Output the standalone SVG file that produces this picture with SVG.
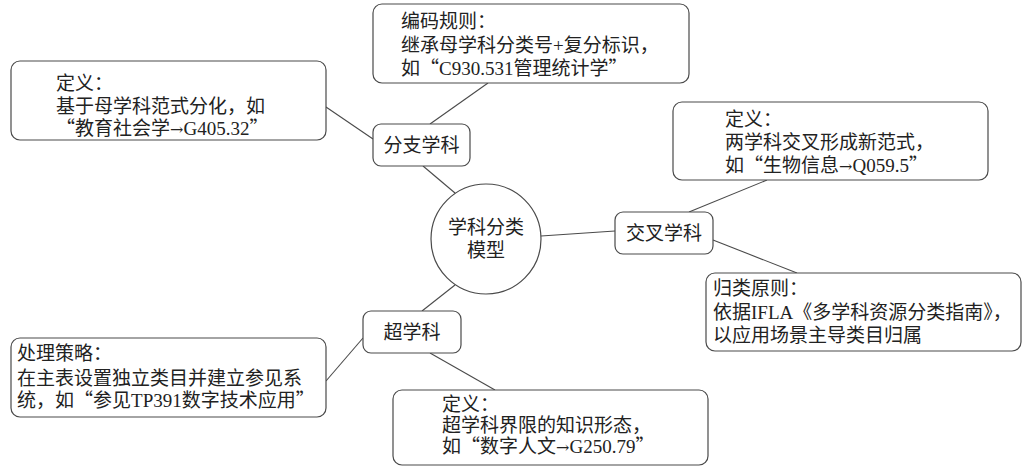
<svg xmlns="http://www.w3.org/2000/svg" width="1026" height="468" viewBox="0 0 1026 468">
<style>
  .bg { fill: #ffffff; }
  .box { fill: #ffffff; stroke: #4a4a4a; stroke-width: 1.2; }
  .conn { stroke: #4a4a4a; stroke-width: 1.1; fill: none; }
  text { font-family: "Liberation Serif", "Noto Sans CJK SC", serif; font-size: 19px; fill: #222222; }
  .c { text-anchor: middle; }
  .q { font-family: "Noto Sans CJK SC", sans-serif; }
  .a { font-family: "DejaVu Serif", serif; font-size: 16px; }
</style>
<rect class="bg" x="0" y="0" width="1026" height="468"/>
<g id="connectors">
  <line class="conn" x1="430" y1="124" x2="488" y2="83"/>
  <line class="conn" x1="373" y1="139" x2="326" y2="107"/>
  <line class="conn" x1="455" y1="193" x2="423" y2="166"/>
  <line class="conn" x1="541" y1="236" x2="615" y2="231"/>
  <line class="conn" x1="689" y1="212" x2="767" y2="180"/>
  <line class="conn" x1="713" y1="240" x2="797" y2="273"/>
  <line class="conn" x1="455" y1="285" x2="422" y2="311"/>
  <line class="conn" x1="363" y1="338" x2="326" y2="381"/>
  <line class="conn" x1="430" y1="353" x2="495" y2="390"/>
</g>
<g id="center">
  <circle class="box" cx="486" cy="239" r="55"/>
  <text class="c" x="486" y="234">学科分类</text>
  <text class="c" x="486" y="257">模型</text>
</g>
<g id="branch">
  <rect class="box" x="373" y="124" width="97" height="42" rx="8"/>
  <text class="c" x="421.5" y="152">分支学科</text>
</g>
<g id="branch-rule">
  <rect class="box" x="373" y="4" width="316" height="79" rx="9"/>
  <text x="401" y="28">编码规则：</text>
  <text x="401" y="52">继承母学科分类号+复分标识，</text>
  <text x="401" y="75">如<tspan class="q">“</tspan>C930.531管理统计学<tspan class="q">”</tspan></text>
</g>
<g id="branch-def">
  <rect class="box" x="11" y="61" width="315" height="79" rx="9"/>
  <text x="56" y="90">定义：</text>
  <text x="56" y="113">基于母学科范式分化，如</text>
  <text x="56" y="135"><tspan class="q">“</tspan>教育社会学<tspan class="a">→</tspan>G405.32<tspan class="q">”</tspan></text>
</g>
<g id="cross">
  <rect class="box" x="615" y="212" width="98" height="42" rx="8"/>
  <text class="c" x="664" y="240">交叉学科</text>
</g>
<g id="cross-def">
  <rect class="box" x="673" y="102" width="315" height="78" rx="9"/>
  <text x="725" y="126">定义：</text>
  <text x="725" y="149">两学科交叉形成新范式，</text>
  <text x="725" y="172">如<tspan class="q">“</tspan>生物信息<tspan class="a">→</tspan>Q059.5<tspan class="q">”</tspan></text>
</g>
<g id="cross-rule">
  <rect class="box" x="706" y="273" width="315" height="78" rx="9"/>
  <text x="713" y="295">归类原则：</text>
  <text x="713" y="319">依据IFLA《多学科资源分类指南》，</text>
  <text x="713" y="342">以应用场景主导类目归属</text>
</g>
<g id="trans">
  <rect class="box" x="363" y="311" width="98" height="42" rx="8"/>
  <text class="c" x="412" y="339">超学科</text>
</g>
<g id="trans-strategy">
  <rect class="box" x="11" y="338" width="315" height="79" rx="9"/>
  <text x="17" y="360">处理策略：</text>
  <text x="17" y="385">在主表设置独立类目并建立参见系</text>
  <text x="17" y="407">统，如<tspan class="q">“</tspan>参见TP391数字技术应用<tspan class="q">”</tspan></text>
</g>
<g id="trans-def">
  <rect class="box" x="393" y="390" width="315" height="75" rx="9"/>
  <text x="442" y="411">定义：</text>
  <text x="442" y="432">超学科界限的知识形态，</text>
  <text x="442" y="453">如<tspan class="q">“</tspan>数字人文<tspan class="a">→</tspan>G250.79<tspan class="q">”</tspan></text>
</g>
</svg>
